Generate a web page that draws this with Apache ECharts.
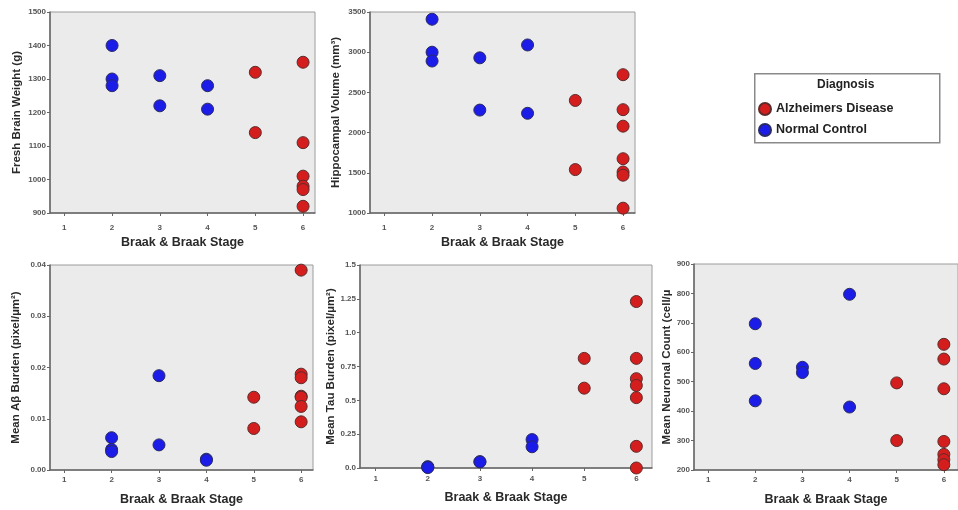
<!DOCTYPE html>
<html>
<head>
<meta charset="utf-8">
<title>Braak & Braak Stage</title>
<script src="https://cdn.jsdelivr.net/npm/echarts@6/dist/echarts.min.js"></script>
<style>
  html, body { margin: 0; padding: 0; background: #fff; }
  #chart { width: 958px; height: 510px; }
</style>
</head>
<body>
<div id="chart"></div>
<script>
// stage of each subject
var ncStage = [2, 2, 2, 3, 3, 4, 4];
var adStage = [5, 5, 6, 6, 6, 6, 6, 6, 6];
var stageTicks = [1, 2, 3, 4, 5, 6];

// values per measure (same subject order as the stage arrays)
var brainWeightNC = [1400, 1300, 1280, 1310, 1220, 1280, 1210];
var brainWeightAD = [1320, 1140, 1350, 1110, 1010, 980, 970, 920, null];
var hippoNC = [3410, 3000, 2890, 2930, 2280, 3090, 2240];
var hippoAD = [2400, 1540, 2720, 2285, 2080, 1675, 1510, 1470, 1060];
var abetaNC = [0.0063, 0.0040, 0.0036, 0.0184, 0.0049, 0.0021, 0.0019];
var abetaAD = [0.0142, 0.0081, 0.0390, 0.0187, 0.0180, 0.0144, 0.0142, 0.0124, 0.0094];
var tauNC = [0.010, 0.006, 0.003, 0.047, 0.045, 0.210, 0.157];
var tauAD = [0.81, 0.59, 1.23, 0.81, 0.66, 0.61, 0.52, 0.16, 0.0];
var neuronNC = [697, 562, 435, 549, 531, 797, 414];
var neuronAD = [496, 300, 627, 577, 476, 297, 253, 235, 218];

var diagnosis = ['Alzheimers Disease', 'Normal Control'];

var font = 'Liberation Sans, Arial, sans-serif';

function pairs(stages, vals) {
    var out = [];
    for (var i = 0; i < stages.length; i++) {
        if (vals[i] !== null) out.push([stages[i], vals[i]]);
    }
    return out;
}

// panel layouts
var panels = [
    { box: { left: 50, top: 12, width: 265, height: 201 }, xMax: 6.25, y: [900, 1500, 100], yGap: 27, xMargin: 11,
      name: 'Fresh Brain Weight (g)', nc: brainWeightNC, ad: brainWeightAD },
    { box: { left: 370, top: 12, width: 265, height: 201 }, xMax: 6.25, y: [1000, 3500, 500], yGap: 28, xMargin: 11,
      name: 'Hippocampal Volume (mm\u00b3)', nc: hippoNC, ad: hippoAD },
    { box: { left: 50, top: 265, width: 263, height: 205 }, xMax: 6.25, y: [0, 0.04, 0.01], yGap: 28, xMargin: 6,
      name: 'Mean A\u03b2 Burden (pixel/\u00b5m\u00b2)', nc: abetaNC, ad: abetaAD,
      fmt: function (v) { return v.toFixed(2); } },
    { box: { left: 360, top: 265, width: 292, height: 203 }, xMax: 6.3, y: [0, 1.5, 0.25], yGap: 21, xMargin: 7,
      name: 'Mean Tau Burden (pixel/\u00b5m\u00b2)', nc: tauNC, ad: tauAD,
      fmt: function (v) { return Number.isInteger(v * 2) ? v.toFixed(1) : String(v); } },
    { box: { left: 694, top: 264, width: 270, height: 206 }, xMax: 6.3, y: [200, 900, 100], yGap: 20, xMargin: 6,
      name: 'Mean Neuronal Count (cell/\u00b5', nc: neuronNC, ad: neuronAD }
];

var grids = [], xAxes = [], yAxes = [], series = [];
var axisLine = { show: true, lineStyle: { color: '#666', width: 1.5 } };
var tickLabel = { color: '#555', fontSize: 8, fontWeight: 'bold', fontFamily: font };
var xNameText = { color: '#2a2a2a', fontSize: 12.5, fontWeight: 'bold', fontFamily: font };
var yNameText = { color: '#2a2a2a', fontSize: 11.5, fontWeight: 'bold', fontFamily: font };

panels.forEach(function (p, i) {
    grids.push(Object.assign({
        show: true,
        backgroundColor: '#ebebeb',
        borderColor: '#9c9c9c',
        borderWidth: 1,
        containLabel: false
    }, p.box));
    xAxes.push({
        gridIndex: i,
        type: 'value',
        min: 0.7,
        max: p.xMax,
        name: 'Braak & Braak Stage',
        nameLocation: 'middle',
        nameGap: 23,
        nameTextStyle: xNameText,
        axisLine: axisLine,
        axisTick: { show: true, length: 3, customValues: stageTicks, lineStyle: { color: '#666' } },
        axisLabel: Object.assign({ customValues: stageTicks, margin: p.xMargin }, tickLabel),
        splitLine: { show: false }
    });
    yAxes.push({
        gridIndex: i,
        type: 'value',
        min: p.y[0],
        max: p.y[1],
        interval: p.y[2],
        name: p.name,
        nameLocation: 'middle',
        nameGap: p.yGap,
        nameTextStyle: yNameText,
        axisLine: axisLine,
        axisTick: { show: true, length: 3, lineStyle: { color: '#666' } },
        axisLabel: Object.assign({ margin: 4, formatter: p.fmt || function (v) { return String(v); } }, tickLabel),
        splitLine: { show: false }
    });
    series.push({
        name: diagnosis[1],
        type: 'scatter',
        xAxisIndex: i,
        yAxisIndex: i,
        symbolSize: 12,
        itemStyle: { color: '#1c1ce8', borderColor: '#2a2a66', borderWidth: 1, opacity: 1 },
        data: pairs(ncStage, p.nc)
    });
    series.push({
        name: diagnosis[0],
        type: 'scatter',
        xAxisIndex: i,
        yAxisIndex: i,
        symbolSize: 12,
        itemStyle: { color: '#d41e1e', borderColor: '#5e2b2b', borderWidth: 1, opacity: 1 },
        data: pairs(adStage, p.ad)
    });
});

var chart = echarts.init(document.getElementById('chart'));
chart.setOption({
    animation: false,
    textStyle: { fontFamily: font },
    grid: grids,
    xAxis: xAxes,
    yAxis: yAxes,
    legend: {
        data: diagnosis,
        orient: 'vertical',
        left: 758,
        top: 102,
        padding: 0,
        itemWidth: 12,
        itemHeight: 12,
        itemGap: 7,
        icon: 'circle',
        textStyle: { color: '#222', fontSize: 12.5, fontWeight: 'bold', fontFamily: font }
    },
    graphic: [
        {
            type: 'rect',
            left: 754,
            top: 73,
            shape: { width: 185, height: 69 },
            style: { fill: '#fff', stroke: '#8a8a8a', lineWidth: 1.5 },
            z: -1
        },
        {
            type: 'text',
            left: 817,
            top: 79,
            style: { text: 'Diagnosis', fill: '#222', font: 'bold 12px ' + font }
        }
    ],
    series: series
});
</script>
</body>
</html>
